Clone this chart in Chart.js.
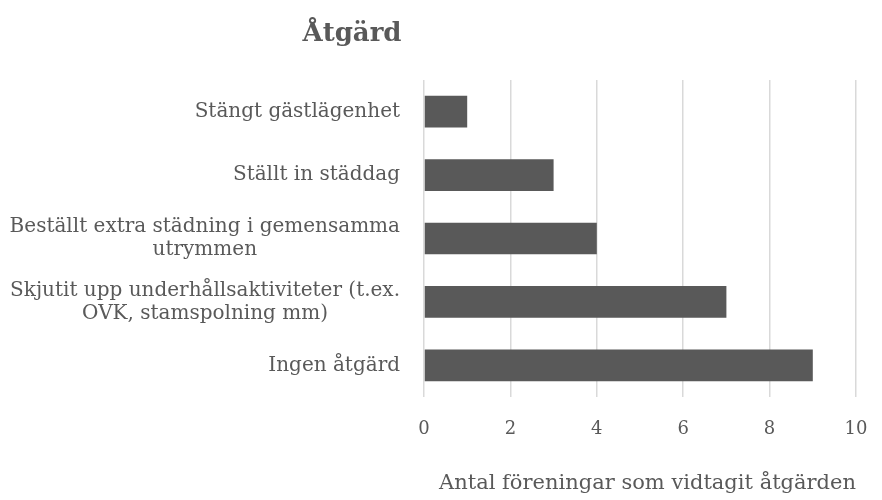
<!DOCTYPE html>
<html>
<head>
<meta charset="utf-8">
<script src="https://cdn.jsdelivr.net/npm/chart.js@4"></script>
<style>
  html, body { margin: 0; padding: 0; background: #ffffff; }
  #wrap { width: 882px; height: 500px; position: relative; }
</style>
</head>
<body>
<div id="wrap"><canvas id="c" width="882" height="500"></canvas></div>
<script>
const chartTitle = 'Åtgärd';
const categories = [
  ['Stängt gästlägenhet'],
  ['Ställt in städdag'],
  ['Beställt extra städning i gemensamma', 'utrymmen'],
  ['Skjutit upp underhållsaktiviteter (t.ex.', 'OVK, stamspolning mm)'],
  ['Ingen åtgärd']
];
const values = [1, 3, 4, 7, 9];
const axisTitle = 'Antal föreningar som vidtagit åtgärden';
const xMin = 0, xMax = 10, xStep = 2;

const FONT = "'DejaVu Serif', serif";
const TEXT = '#595959';
const CAT_SIZE = 20;
const CAT_LH = 23;
const CAT_PAD = 24;

const customDraw = {
  id: 'customDraw',
  afterDraw(chart) {
    const ctx = chart.ctx;
    const ys = chart.scales.y;
    ctx.save();
    ctx.fillStyle = TEXT;
    ctx.font = CAT_SIZE + 'px ' + FONT;
    ctx.textBaseline = 'middle';
    ctx.textAlign = 'center';
    categories.forEach((lines, i) => {
      const yc = ys.getPixelForTick(i);
      const w = Math.max(...lines.map(l => ctx.measureText(l).width));
      const right = ys.right - CAT_PAD;
      const cx = right - w / 2;
      const y0 = yc - (lines.length - 1) * CAT_LH / 2;
      lines.forEach((l, k) => ctx.fillText(l, cx, y0 + k * CAT_LH));
    });
    ctx.font = 'bold 26px ' + FONT;
    ctx.textAlign = 'center';
    ctx.fillText(chartTitle, 352, 34);
    ctx.restore();
  }
};

new Chart(document.getElementById('c'), {
  type: 'bar',
  data: {
    labels: categories,
    datasets: [{
      data: values,
      backgroundColor: '#595959',
      borderWidth: 0,
      barPercentage: 0.5,
      categoryPercentage: 1.0
    }]
  },
  options: {
    indexAxis: 'y',
    responsive: false,
    animation: false,
    layout: { padding: { top: 80, right: 26, left: 0, bottom: 0 } },
    plugins: {
      legend: { display: false },
      title: { display: false },
      tooltip: { enabled: false }
    },
    scales: {
      x: {
        min: xMin, max: xMax,
        ticks: { stepSize: xStep, color: TEXT, font: { family: FONT, size: 18 }, padding: 22 },
        grid: { color: '#d9d9d9', lineWidth: 1.5, drawTicks: false },
        border: { display: false },
        title: { display: true, text: axisTitle, align: 'end', color: TEXT, font: { family: FONT, size: 21 }, padding: { top: 14, bottom: 4 } },
        afterFit(scale) { scale.height = 103; scale.paddingLeft = 0; scale.paddingRight = 0; }
      },
      y: {
        ticks: { color: 'rgba(0,0,0,0)', font: { family: FONT, size: CAT_SIZE }, padding: CAT_PAD },
        grid: { display: false, drawTicks: false },
        border: { display: false },
        afterFit(scale) { scale.width = 424; scale.paddingTop = 0; scale.paddingBottom = 0; }
      }
    }
  },
  plugins: [customDraw]
});
</script>
</body>
</html>
